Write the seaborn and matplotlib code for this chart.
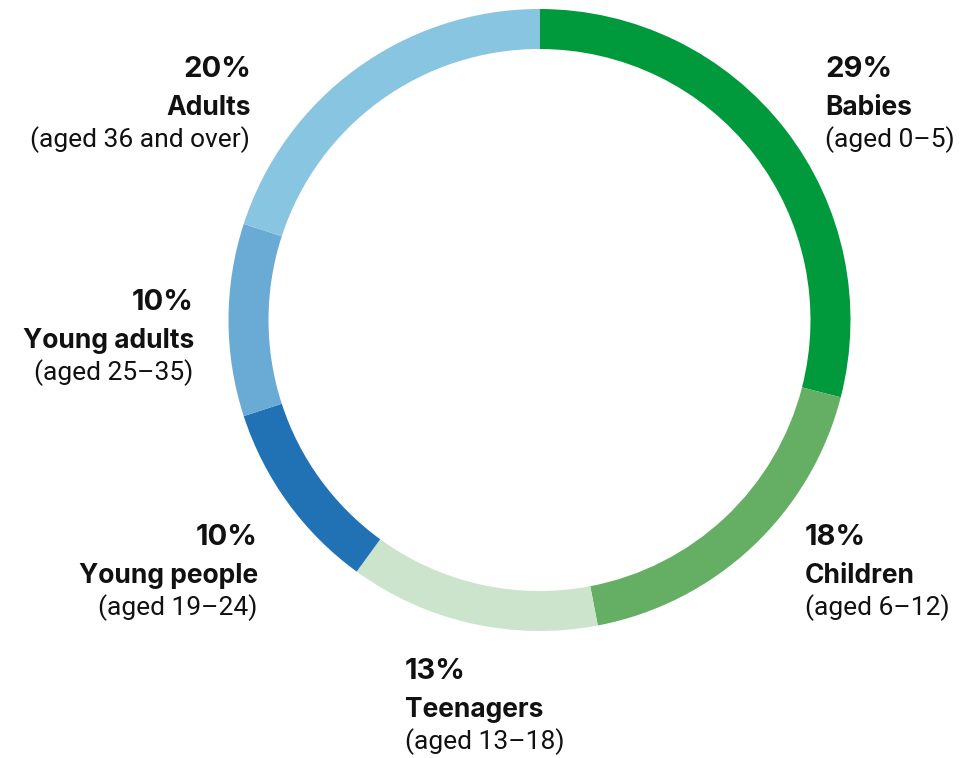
import matplotlib
matplotlib.use("Agg")
import matplotlib.pyplot as plt
import seaborn as sns

# Data
categories = ["Babies", "Children", "Teenagers", "Young people", "Young adults", "Adults"]
ages = ["(aged 0–5)", "(aged 6–12)", "(aged 13–18)", "(aged 19–24)", "(aged 25–35)", "(aged 36 and over)"]
shares = [29, 18, 13, 10, 10, 20]
colors = ["#00993c", "#64af64", "#cce4cc", "#2171b5", "#6aabd6", "#88c5e0"]

# Layout (pixel coordinates, y from top = baseline of the percent line)
label_x = [825, 805, 405, 258, 194, 251]
label_y = [77, 545, 679, 545, 310, 77]
label_ha = ["left", "left", "left", "right", "right", "right"]

sns.set_theme(style="white")
plt.rcParams["font.family"] = ["Roboto", "DejaVu Sans"]

W, H = 960, 758
fig = plt.figure(figsize=(W / 100, H / 100), dpi=100)
ax = fig.add_axes([0, 0, 1, 1])

cx, cy, r = 539.5, H - 320, 311
ax.pie(shares, colors=colors, startangle=90, counterclock=False,
       center=(cx, cy), radius=r, frame=True,
       wedgeprops=dict(width=40, linewidth=0, antialiased=True))
ax.set_xlim(0, W)
ax.set_ylim(0, H)
ax.set_aspect("equal")
ax.axis("off")

ink = "#111111"
for cat, age, s, x, y, ha in zip(categories, ages, shares, label_x, label_y, label_ha):
    ax.text(x, H - y, f"{s}%", ha=ha, va="baseline", fontsize=21, fontweight="bold",
            family=["Inter", "DejaVu Sans"], color=ink)
    ax.text(x, H - (y + 38), cat, ha=ha, va="baseline", fontsize=19, fontweight="bold",
            family=["Inter", "DejaVu Sans"], color=ink)
    ax.text(x - (1 if ha == "right" else 0), H - (y + 70), age, ha=ha, va="baseline",
            fontsize=19, family=["Roboto", "DejaVu Sans"], color=ink)

fig.savefig("out.png", dpi=100, facecolor="white")
